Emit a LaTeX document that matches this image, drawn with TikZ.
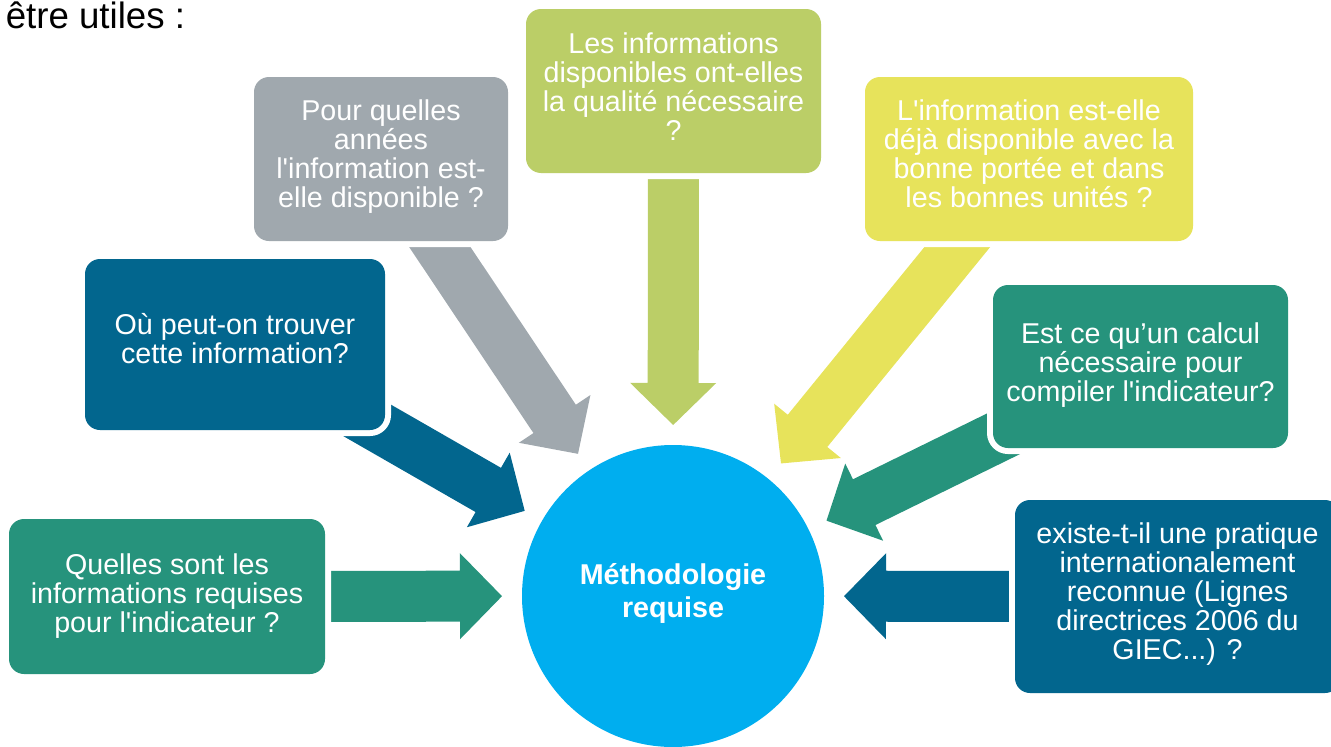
\documentclass[tikz,border=0pt]{standalone}
\usepackage{fontspec}
\setmainfont{Liberation Sans}[Ligatures=TeXOff]
\usetikzlibrary{calc}
\definecolor{cteal}{HTML}{26937C}
\definecolor{cblue}{HTML}{02668E}
\definecolor{cgray}{HTML}{A0A8AE}
\definecolor{colive}{HTML}{BBCE67}
\definecolor{cyellow}{HTML}{E7E35B}
\definecolor{ccyan}{HTML}{00AEEF}
\pgfdeclarelayer{bg}
\pgfsetlayers{bg,main}
\tikzset{
  qbox/.style={rectangle, rounded corners=11.25pt, fill=#1, inner sep=0pt,
    preaction={draw=white, line width=9pt}},
  qtxt/.style={text=white, align=center, inner sep=0pt,
    font=\fontsize{21.5pt}{21.75pt}\selectfont},
  hub/.style={circle, fill=ccyan, inner sep=0pt, minimum size=226.5pt},
  hubtxt/.style={text=white, align=center, inner sep=0pt,
    font=\fontsize{21.5pt}{24.75pt}\selectfont\bfseries},
}
% fat arrow from the centre of box #1 towards the hub, colour #2
\newcommand\fatarrow[2]{%
  \coordinate (#1-tip) at ($(M.center)!128.25pt!(#1.center)$);
  \coordinate (#1-hb) at ($(#1-tip)!31.5pt!(#1.center)$);
  \fill[#2] ($(#1.center)!19.125pt!90:(#1-tip)$)
    -- ($(#1-hb)!19.125pt!90:(#1-tip)$)
    -- ($(#1-hb)!32.25pt!90:(#1-tip)$)
    -- (#1-tip)
    -- ($(#1-hb)!32.25pt!-90:(#1-tip)$)
    -- ($(#1-hb)!19.125pt!-90:(#1-tip)$)
    -- ($(#1.center)!19.125pt!-90:(#1-tip)$) -- cycle;}
\begin{document}
\begin{tikzpicture}[x=0.75pt, y=-0.75pt]
\useasboundingbox (0,0) rectangle (1331,746);

% title
\node[anchor=base west, inner sep=0pt, font=\fontsize{27.5pt}{33pt}\selectfont] (title) at (5.5,28) {être utiles :};

% hub
\node[hub] (M) at (673,596) {};
\node[hubtxt] (Mt) at ($(M.center)+(0,-2.5)$) {Méthodologie\\requise};

% boxes
\node[qbox=cteal, minimum width=237pt, minimum height=116.25pt] (b1) at (167,596.5) {};
\node[qbox=cblue, minimum width=225pt, minimum height=128.25pt] (b2) at (235,344.5) {};
\node[qbox=cgray, minimum width=190.5pt, minimum height=123pt] (b3) at (381,159) {};
\node[qbox=colive, minimum width=221.25pt, minimum height=123pt] (b4) at (673.5,91) {};
\node[qbox=cyellow, minimum width=246pt, minimum height=123pt] (b5) at (1029,159) {};
\node[qbox=cteal, minimum width=221.25pt, minimum height=122.25pt] (b6) at (1140.5,366.5) {};
\node[qbox=cblue, minimum width=243.75pt, minimum height=144.75pt] (b7) at (1177.5,596.5) {};

% texts
\node[qtxt] (t1) at ($(b1.center)+(0,0)$) {Quelles sont les\\informations requises\\pour l'indicateur ?};
\node[qtxt] (t2) at ($(b2.center)+(0,-5.5)$) {Où peut-on trouver\\cette information?};
\node[qtxt] (t3) at ($(b3.center)+(0,-2)$) {Pour quelles\\années\\l'information est-\\elle disponible ?};
\node[qtxt] (t4) at ($(b4.center)+(0,-4)$) {Les informations\\disponibles ont-elles\\la qualité nécessaire\\?};
\node[qtxt] (t5) at ($(b5.center)+(0,-5)$) {L'information est-elle\\déjà disponible avec la\\bonne portée et dans\\les bonnes unités ?};
\node[qtxt] (t6) at ($(b6.center)+(0,-1)$) {Est ce qu’un calcul\\nécessaire pour\\compiler l'indicateur?};
\node[qtxt] (t7) at ($(b7.center)+(0,-2)$) {existe-t-il une pratique\\internationalement\\reconnue (Lignes\\directrices 2006 du\\GIEC...) ?};

% arrows (behind the boxes)
\begin{pgfonlayer}{bg}
\fatarrow{b1}{cteal}
\fatarrow{b2}{cblue}
\fatarrow{b3}{cgray}
\fatarrow{b4}{colive}
\fatarrow{b5}{cyellow}
\fatarrow{b6}{cteal}
\fatarrow{b7}{cblue}
\end{pgfonlayer}
\end{tikzpicture}
\end{document}
